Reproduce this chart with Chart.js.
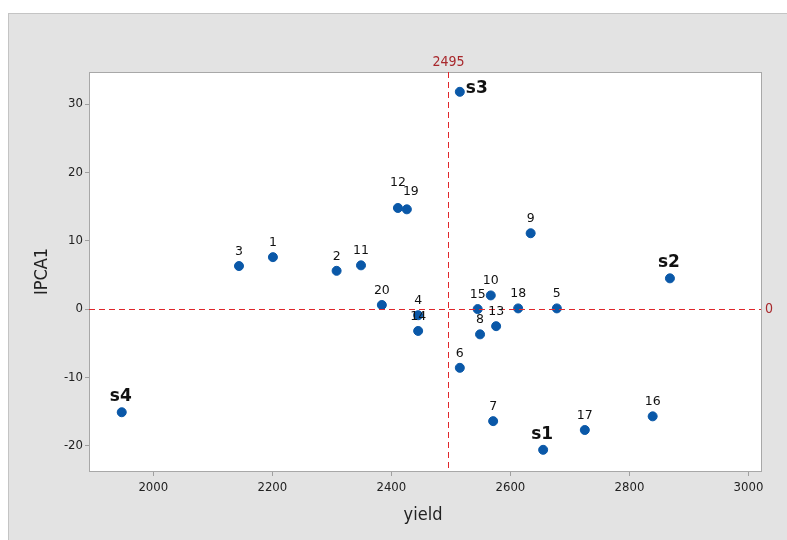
<!DOCTYPE html>
<html lang="en">
<head>
    <meta charset="UTF-8">
    <title>IPCA1 vs yield</title>
    <script src="https://cdn.jsdelivr.net/npm/chart.js@4.4.1/dist/chart.umd.min.js"></script>
    <style>
        html, body { margin: 0; padding: 0; background: #fff; }
        #wrap { width: 787px; height: 540px; }
    </style>
</head>
<body>
    <div id="wrap"><canvas id="biplot"></canvas></div>
    <script>
        // genotypes 1..20 and environments s1..s4
        const names = ['1','2','3','4','5','6','7','8','9','10','11','12','13','14','15','16','17','18','19','20','s1','s2','s3','s4'];
        const yieldVals = [2201,2308,2144,2445,2678,2515,2571,2549,2634,2567,2349,2411,2576,2445,2545,2839,2725,2613,2426,2384,2655,2868,2515,1947];
        const ipcaVals = [7.6,5.6,6.3,-0.9,0.1,-8.6,-16.4,-3.7,11.1,2.0,6.4,14.8,-2.5,-3.2,0.0,-15.7,-17.7,0.1,14.6,0.6,-20.6,4.5,31.8,-15.1];
        const xTicks = [2000, 2200, 2400, 2600, 2800, 3000];
        const yTicks = [-20, -10, 0, 10, 20, 30];
        const meanYield = 2495;
        const ipcaRef = 0;

        // label nudges (px) where labels would collide
        const labelNudge = { '12': [0, -11], '19': [4, -3] };

        const points = names.map((n, i) => ({ x: yieldVals[i], y: ipcaVals[i], name: n }));

        const tickFont = { family: "'DejaVu Sans Condensed', 'Liberation Sans Narrow', sans-serif", size: 13 };

        const decor = {
            id: 'decor',
            beforeDraw(chart) {
                const ctx = chart.ctx;
                const a = chart.chartArea;
                ctx.save();
                ctx.fillStyle = '#e3e3e3';
                ctx.fillRect(8, 13, 787 - 8, 540 - 13);
                ctx.strokeStyle = '#c4c4c4';
                ctx.lineWidth = 1;
                ctx.strokeRect(8.5, 13.5, 787, 540);
                ctx.fillStyle = '#ffffff';
                ctx.fillRect(a.left, a.top, a.right - a.left, a.bottom - a.top);
                ctx.restore();
            },
            afterDatasetsDraw(chart) {
                const ctx = chart.ctx;
                const a = chart.chartArea;
                const xs = chart.scales.x, ys = chart.scales.y;
                ctx.save();
                // plot frame
                ctx.strokeStyle = '#a8a8a8';
                ctx.lineWidth = 1;
                ctx.strokeRect(a.left + 0.5, a.top + 0.5, a.right - a.left, a.bottom - a.top);

                // reference lines
                ctx.strokeStyle = '#e0262b';
                ctx.setLineDash([6, 4]);
                const px = Math.round(xs.getPixelForValue(meanYield)) + 0.5;
                const py = Math.round(ys.getPixelForValue(ipcaRef)) + 0.5;
                ctx.beginPath();
                ctx.moveTo(px, a.top); ctx.lineTo(px, a.bottom);
                ctx.moveTo(a.left, py); ctx.lineTo(a.right, py);
                ctx.stroke();
                ctx.setLineDash([]);

                ctx.fillStyle = '#a8282c';
                ctx.font = "14px 'DejaVu Sans Condensed', sans-serif";
                ctx.textAlign = 'center';
                ctx.textBaseline = 'bottom';
                ctx.fillText(String(meanYield), px, a.top - 3);
                ctx.textAlign = 'left';
                ctx.textBaseline = 'middle';
                ctx.fillText(String(ipcaRef), a.right + 4, py);

                // point labels
                const meta = chart.getDatasetMeta(0);
                meta.data.forEach((el, i) => {
                    const n = names[i];
                    const nd = labelNudge[n] || [0, 0];
                    ctx.fillStyle = '#111';
                    if (n[0] === 's') {
                        ctx.font = "bold 17px 'DejaVu Sans', sans-serif";
                        if (n === 's3') {
                            ctx.textAlign = 'left';
                            ctx.textBaseline = 'middle';
                            ctx.fillText(n, el.x + 6, el.y - 3);
                        } else {
                            ctx.textAlign = 'center';
                            ctx.textBaseline = 'bottom';
                            ctx.fillText(n, el.x - 1, el.y - 7);
                        }
                    } else {
                        ctx.font = "12.5px 'DejaVu Sans', sans-serif";
                        ctx.textAlign = 'center';
                        ctx.textBaseline = 'bottom';
                        ctx.fillText(n, el.x + nd[0], el.y - 8 + nd[1]);
                    }
                });

                // axis titles
                ctx.fillStyle = '#222';
                ctx.font = "18px 'DejaVu Sans Condensed', sans-serif";
                ctx.textAlign = 'center';
                ctx.textBaseline = 'middle';
                ctx.fillText('yield', (a.left + a.right) / 2 - 2, 515);
                ctx.translate(42, (a.top + a.bottom) / 2);
                ctx.rotate(-Math.PI / 2);
                ctx.fillText('IPCA1', 0, 0);
                ctx.restore();
            }
        };

        new Chart(document.getElementById('biplot'), {
            type: 'scatter',
            data: {
                datasets: [{
                    data: points,
                    backgroundColor: '#0a58a8',
                    borderColor: '#0a58a8',
                    pointRadius: 4.5,
                    pointHoverRadius: 4.5
                }]
            },
            options: {
                responsive: true,
                maintainAspectRatio: false,
                animation: false,
                layout: { padding: { top: 72, right: 26, left: 0, bottom: 0 } },
                plugins: {
                    legend: { display: false },
                    tooltip: { enabled: false }
                },
                scales: {
                    x: {
                        type: 'linear',
                        min: 1892,
                        max: 3021,
                        afterBuildTicks: s => { s.ticks = xTicks.map(v => ({ value: v })); },
                        afterFit: s => { s.height = 69; },
                        grid: { drawOnChartArea: false, drawTicks: true, tickLength: 5, color: '#a0a0a0' },
                        border: { color: '#a8a8a8' },
                        ticks: { font: tickFont, color: '#222', padding: 4, maxRotation: 0, callback: v => String(v) }
                    },
                    y: {
                        type: 'linear',
                        min: -23.7,
                        max: 34.7,
                        afterBuildTicks: s => { s.ticks = yTicks.map(v => ({ value: v })); },
                        afterFit: s => { s.width = 89; },
                        grid: { drawOnChartArea: false, drawTicks: true, tickLength: 4, color: '#a0a0a0' },
                        border: { color: '#a8a8a8' },
                        ticks: { font: tickFont, color: '#222', padding: 2, callback: v => String(v) }
                    }
                }
            },
            plugins: [decor]
        });
    </script>
</body>
</html>
